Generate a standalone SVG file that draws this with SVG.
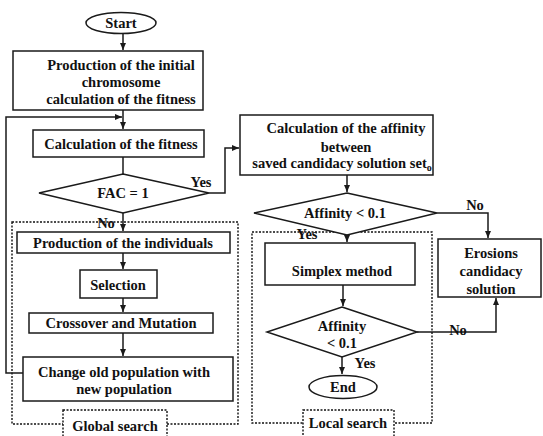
<svg xmlns="http://www.w3.org/2000/svg" width="543" height="436" viewBox="0 0 543 436">
<style>
.box{fill:#fff;stroke:#1a1a1a;stroke-width:1.5}
.frame{fill:none;stroke:#111;stroke-width:1.4;stroke-dasharray:2 1.5}
.lbl{fill:#fff;stroke:#111;stroke-width:1.4;stroke-dasharray:2 1.5}
.t{font-family:"Liberation Serif","Times New Roman",serif;font-weight:bold;font-size:14.5px;fill:#111;text-anchor:middle}
.c{fill:none;stroke:#1a1a1a;stroke-width:1.5}
</style>
<defs>
<marker id="ah" markerWidth="8" markerHeight="8" refX="7" refY="4" orient="auto" markerUnits="userSpaceOnUse">
<path d="M0,1 L7,4 L0,7 Z" fill="#1a1a1a"/>
</marker>
</defs>
<rect width="543" height="436" fill="#fff"/>
<g id="global-frame">
<rect class="frame" x="12" y="222" width="226" height="202"/>
</g>
<g id="local-frame">
<rect class="frame" x="252" y="232" width="180" height="191"/>
</g>
<g id="connectors">
<path class="c" d="M123,33 V50" marker-end="url(#ah)"/>
<path class="c" d="M123,110 V129" marker-end="url(#ah)"/>
<path class="c" d="M23,373 H6 V117 H122" marker-end="url(#ah)"/>
<path class="c" d="M123,157 V174"/>
<path class="c" d="M209,193 H225 V148 H239" marker-end="url(#ah)"/>
<path class="c" d="M123,213 V231" marker-end="url(#ah)"/>
<path class="c" d="M123,253 V269" marker-end="url(#ah)"/>
<path class="c" d="M123,298 V312" marker-end="url(#ah)"/>
<path class="c" d="M123,333 V356" marker-end="url(#ah)"/>
<path class="c" d="M347,175 V192" marker-end="url(#ah)"/>
<path class="c" d="M437,213 H488 V238" marker-end="url(#ah)"/>
<path class="c" d="M347,235 V242" marker-end="url(#ah)"/>
<path class="c" d="M343,285 V306" marker-end="url(#ah)"/>
<path class="c" d="M417,332 H496 V298" marker-end="url(#ah)"/>
<path class="c" d="M342,357 V374" marker-end="url(#ah)"/>
</g>
<g id="start">
<ellipse class="box" cx="121" cy="23" rx="35" ry="10.5"/>
<text class="t" x="121" y="28">Start</text>
</g>
<g id="init">
<rect class="box" x="13" y="51" width="190" height="59"/>
<text class="t" x="121" y="70">Production of the initial</text>
<text class="t" x="121" y="87">chromosome</text>
<text class="t" x="121" y="104">calculation of the fitness</text>
</g>
<g id="fitness">
<rect class="box" x="33" y="130" width="171" height="27"/>
<text class="t" x="121" y="149">Calculation of the fitness</text>
</g>
<g id="fac">
<polygon class="box" points="123,174 209,193 123,213 39,193"/>
<text class="t" x="123" y="198">FAC = 1</text>
</g>
<text class="t" x="201" y="187">Yes</text>
<text class="t" x="106" y="228">No</text>
<g id="individuals">
<rect class="box" x="17" y="232" width="213" height="21"/>
<text class="t" x="123" y="248">Production of the individuals</text>
</g>
<g id="selection">
<rect class="box" x="80" y="270" width="77" height="28"/>
<text class="t" x="118" y="290">Selection</text>
</g>
<g id="crossover">
<rect class="box" x="29" y="313" width="184" height="20"/>
<text class="t" x="121" y="328">Crossover and Mutation</text>
</g>
<g id="change">
<rect class="box" x="23" y="357" width="210" height="44"/>
<text class="t" x="124" y="377">Change old population with</text>
<text class="t" x="124" y="394">new population</text>
</g>
<g id="global-label">
<rect class="lbl" x="63" y="410" width="104" height="30"/>
<text class="t" x="115" y="431">Global search</text>
</g>
<g id="affinity-calc">
<rect class="box" x="240" y="115" width="193" height="60"/>
<text class="t" x="346" y="133">Calculation of the affinity</text>
<text class="t" x="346" y="152">between</text>
<text class="t" x="342" y="168">saved candidacy solution set<tspan font-size="10" dy="3">o</tspan></text>
</g>
<g id="affinity1">
<polygon class="box" points="347,193 437,213 347,235 254,213"/>
<text class="t" x="345" y="218">Affinity &lt; 0.1</text>
</g>
<text class="t" x="475" y="210">No</text>
<text class="t" x="307" y="239">Yes</text>
<g id="simplex">
<rect class="box" x="265" y="243" width="150" height="42"/>
<text class="t" x="342" y="276">Simplex method</text>
</g>
<g id="affinity2">
<polygon class="box" points="342,307 417,332 342,357 267,332"/>
<text class="t" x="342" y="331">Affinity</text>
<text class="t" x="342" y="348">&lt; 0.1</text>
</g>
<text class="t" x="458" y="335">No</text>
<text class="t" x="365" y="368">Yes</text>
<g id="end">
<ellipse class="box" cx="343" cy="387" rx="34" ry="11.5"/>
<text class="t" x="343" y="392">End</text>
</g>
<g id="local-label">
<rect class="lbl" x="303" y="410" width="91" height="30"/>
<text class="t" x="348" y="428">Local search</text>
</g>
<g id="erosions">
<rect class="box" x="438" y="239" width="103" height="58"/>
<text class="t" x="491" y="258">Erosions</text>
<text class="t" x="491" y="276">candidacy</text>
<text class="t" x="491" y="294">solution</text>
</g>
</svg>
